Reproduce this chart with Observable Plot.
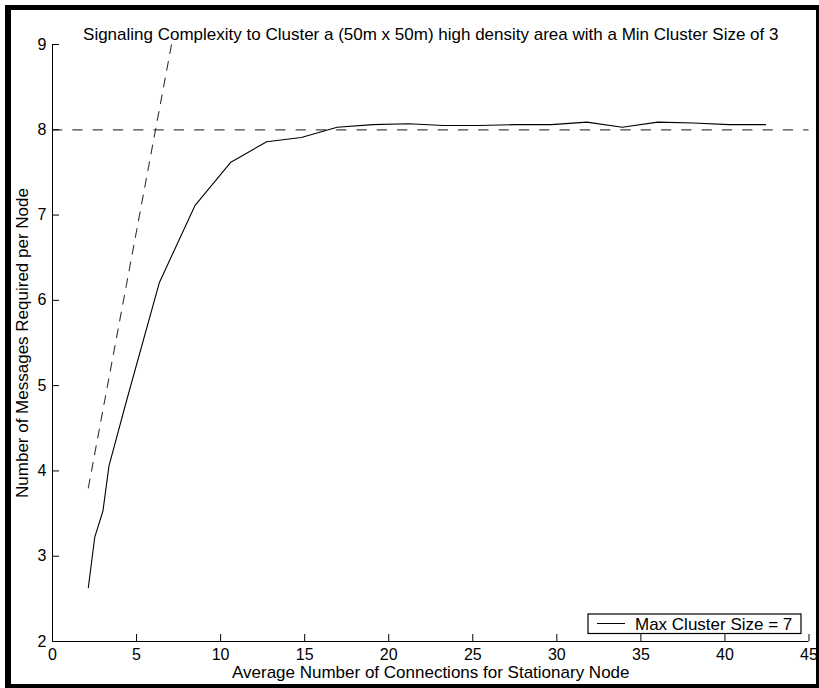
<!DOCTYPE html>
<html><head><meta charset="utf-8">
<script src="https://cdn.jsdelivr.net/npm/d3@7"></script>
<script src="https://cdn.jsdelivr.net/npm/@observablehq/plot@0.6"></script>
<style>body{margin:0;background:#fff} #chart{width:819px;height:688px}</style>
</head><body><div id="chart"></div>
<script>
const titleText = "Signaling Complexity to Cluster a (50m x 50m) high density area with a Min Cluster Size of 3";
const xLabel = "Average Number of Connections for Stationary Node";
const yLabel = "Number of Messages Required per Node";
const seriesName = "Max Cluster Size = 7";
const connections = [2.13, 2.51, 3.0, 3.36, 4.4, 6.36, 8.47, 10.61, 12.74, 14.8, 16.93, 19.05, 21.18, 23.26, 25.4, 27.55, 29.68, 31.79, 33.89, 36.0, 38.12, 40.25, 42.42];
const messages = [2.63, 3.22, 3.53, 4.06, 4.82, 6.21, 7.11, 7.62, 7.86, 7.91, 8.03, 8.06, 8.07, 8.05, 8.05, 8.06, 8.06, 8.09, 8.03, 8.09, 8.08, 8.06, 8.06];
const boundX = [2.13, 7.08];
const boundY = [3.8, 9.0];
const limitLevel = [8];
const xTicks = [0, 5, 10, 15, 20, 25, 30, 35, 40, 45];
const yTicks = [2, 3, 4, 5, 6, 7, 8, 9];

const curve = connections.map((x, i) => ({x, y: messages[i]}));
const bound = boundX.map((x, i) => ({x, y: boundY[i]}));
const font = "'Liberation Sans', Arimo, Arial, Helvetica, sans-serif";
const intFmt = d => String(d);

const chart = Plot.plot({
  width: 819, height: 688,
  marginLeft: 52, marginRight: 10.5, marginTop: 44, marginBottom: 47,
  style: {fontFamily: font, fontSize: "16px", background: "#fff", color: "#000"},
  x: {domain: [0, 45]},
  y: {domain: [2, 9]},
  marks: [
    Plot.ruleY(limitLevel, {stroke: "#444", strokeWidth: 1.2, strokeDasharray: "10.2,10.1"}),
    Plot.line(bound, {x: "x", y: "y", stroke: "#333", strokeWidth: 1.1, strokeDasharray: "9,8", clip: true}),
    Plot.line(curve, {x: "x", y: "y", stroke: "#000", strokeWidth: 1.1}),
    Plot.ruleX([0], {stroke: "#000"}),
    Plot.ruleY([2], {stroke: "#000"}),
    Plot.axisX(xTicks, {tickSize: -7, tickFormat: () => "", label: null}),
    Plot.axisX(xTicks, {tickSize: 0, tickPadding: 7, label: null, fontSize: 16, tickFormat: intFmt}),
    Plot.axisY(yTicks, {tickSize: -7, tickFormat: () => "", label: null}),
    Plot.axisY(yTicks, {tickSize: 0, tickPadding: 6, label: null, fontSize: 16, tickFormat: intFmt}),
    Plot.text([xLabel], {frameAnchor: "bottom", dy: 36, fontSize: 17}),
    Plot.text([yLabel], {frameAnchor: "left", textAnchor: "middle", rotate: -90, dx: -30, fontSize: 17}),
    Plot.text([titleText], {frameAnchor: "top", dy: -17, fontSize: 17})
  ]
});

const svg = d3.select(chart);
const lg = svg.append("g").attr("font-family", font);
lg.append("rect").attr("x", 588).attr("y", 614).attr("width", 213).attr("height", 19.5)
  .attr("fill", "#fff").attr("stroke", "#000").attr("stroke-width", 1.2);
lg.append("line").attr("x1", 597).attr("x2", 625).attr("y1", 623.5).attr("y2", 623.5)
  .attr("stroke", "#000").attr("stroke-width", 1);
lg.append("text").attr("x", 635).attr("y", 629.5).attr("font-size", 17)
  .attr("text-anchor", "start").attr("fill", "#000").text(seriesName);
// figure frame
const fr = svg.append("g").attr("fill", "#000");
fr.append("rect").attr("x", 5).attr("y", 5).attr("width", 814).attr("height", 5);
fr.append("rect").attr("x", 5).attr("y", 5).attr("width", 6).attr("height", 683);
fr.append("rect").attr("x", 816).attr("y", 5).attr("width", 3).attr("height", 683);
fr.append("rect").attr("x", 5).attr("y", 684).attr("width", 814).attr("height", 4);

document.getElementById("chart").appendChild(chart);
</script>
</body></html>
